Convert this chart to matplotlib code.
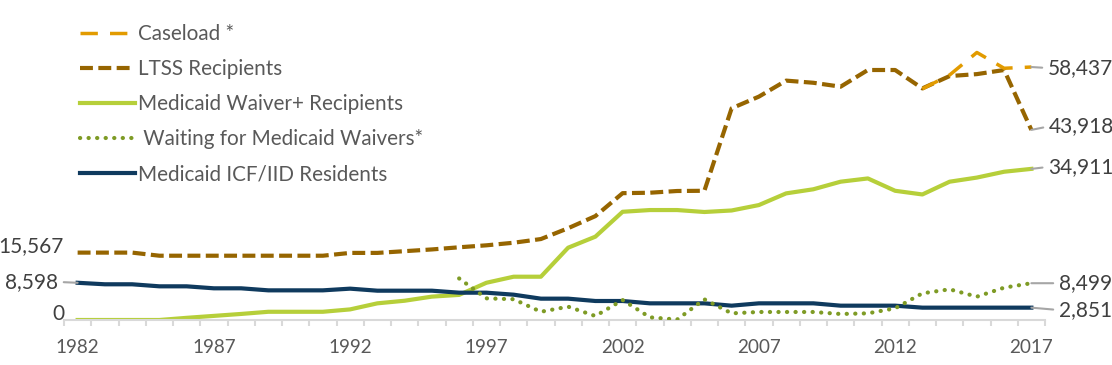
import matplotlib
matplotlib.use("Agg")
import matplotlib.pyplot as plt
import numpy as np

years = list(range(1982, 2018))

ltss = [15567, 15567, 15567, 14850, 14850, 14850, 14850, 14850, 14850, 14850,
        15500, 15500, 15900, 16300, 16800, 17250, 17850, 18700, 21200, 24000,
        29300, 29400, 29800, 29850, 48900, 51600, 55300, 54800, 53900, 57750,
        57750, 53500, 56350, 56800, 57750, 43918]

waiver = [0, 0, 0, 0, 500, 950, 1400, 1900, 1900, 1900,
          2450, 3850, 4450, 5400, 5800, 8600, 10000, 10000, 16700, 19250,
          25000, 25400, 25400, 24950, 25300, 26550, 29250, 30200, 31950, 32700,
          29850, 29000, 31950, 32900, 34250, 34911]

icf = [8598, 8250, 8250, 7780, 7780, 7320, 7320, 6850, 6850, 6850,
       7240, 6770, 6770, 6770, 6310, 6310, 5850, 4930, 4930, 4390,
       4390, 3850, 3850, 3850, 3310, 3850, 3850, 3850, 3310, 3310,
       3310, 2851, 2851, 2851, 2851, 2851]

waiting = [None] * 14 + [9600, 5000, 4800, 1900, 3080, 920, 4620, 620, 100, 4780,
                         1540, 1850, 1850, 1850, 1390, 1540, 2700, 6160, 7090, 5390,
                         7470, 8499]

caseload = [None] * 31 + [53400, 56600, 61800, 58150, 58437]

tick_years = [1982, 1987, 1992, 1997, 2002, 2007, 2012, 2017]

labels = ["Caseload *", "LTSS Recipients", "Medicaid Waiver+ Recipients",
          " Waiting for Medicaid Waivers*", "Medicaid ICF/IID Residents"]

C_CASE = "#E29B00"
C_LTSS = "#966500"
C_WAIV = "#B6CF3A"
C_WAIT = "#7E9B25"
C_ICF = "#0F3A5E"
C_GRAY = "#A6A6A6"
C_TICK = "#595959"
C_LAB = "#404040"

plt.rcParams['font.family'] = ['Lato', 'DejaVu Sans']

fig = plt.figure(figsize=(11.12, 3.65), dpi=100)
ax = fig.add_axes([64 / 1112, 45 / 365, 981 / 1112, 0.7709])

def arr(v):
    return np.array([np.nan if x is None else x for x in v], dtype=float)

l_waiv, = ax.plot(years, waiver, color=C_WAIV, lw=3.0, zorder=2, solid_joinstyle='round')
l_icf, = ax.plot(years, icf, color=C_ICF, lw=3.0, zorder=3, solid_joinstyle='round')
l_wait, = ax.plot(years, arr(waiting), color=C_WAIT, lw=3.0, linestyle=(0, (0.05, 2.0)),
                  dash_capstyle='round', zorder=4)
l_ltss, = ax.plot(years, ltss, color=C_LTSS, lw=3.0, linestyle=(0, (3.1, 1.3)), zorder=5)
l_case, = ax.plot(years, arr(caseload), color=C_CASE, lw=2.5, linestyle=(0, (5, 3.5)), zorder=6)

ax.set_xlim(1981.5, 2017.5)
ax.set_ylim(0, 65000)

for s in ['top', 'right', 'left']:
    ax.spines[s].set_visible(False)
ax.spines['bottom'].set_color('#D9D9D9')
ax.spines['bottom'].set_linewidth(1.5)
ax.set_yticks([])
ax.set_xticks(tick_years)
ax.set_xticklabels([str(y) for y in tick_years])
ax.set_xticks(np.arange(1981.5, 2018.0, 1.0), minor=True)
ax.tick_params(axis='x', which='major', length=0, pad=14, labelsize=13.6, labelcolor=C_TICK)
ax.tick_params(axis='x', which='minor', length=4.5, width=1.5, color='#D9D9D9')

def lab(val, x, dx, dy, ha, leader):
    txt = f"{val:,}"
    kw = dict(xy=(x, val), xytext=(dx, dy), textcoords='offset points',
              ha=ha, va='center', fontsize=15, color=C_LAB, zorder=10)
    if leader:
        kw['arrowprops'] = dict(arrowstyle='-', color=C_GRAY, lw=1.5,
                                shrinkA=2, shrinkB=0,
                                relpos=(0, 0.5) if ha == 'left' else (1, 0.5))
    ax.annotate(txt, **kw)

lab(ltss[0], years[0], -10.4, 5.0, 'right', False)
lab(icf[0], years[0], -14.0, 0.6, 'right', True)
lab(waiver[0], years[0], -9.7, 4.3, 'right', False)

lab(caseload[-1], years[-1], 11.8, -0.7, 'left', True)
lab(ltss[-1], years[-1], 12.5, 2.5, 'left', True)
lab(waiver[-1], years[-1], 12.0, 1.4, 'left', True)
lab(waiting[-1], years[-1], 19.7, 0.0, 'left', True)
lab(icf[-1], years[-1], 19.7, -1.7, 'left', True)

handles = [l_case, l_ltss, l_waiv, l_wait, l_icf]
leg = fig.legend(handles, labels, loc='upper left', bbox_to_anchor=(80 / 1112, 1 - 24 / 365),
                 frameon=False, fontsize=14.9, handlelength=2.66, handletextpad=0.14,
                 labelspacing=0.73, borderpad=0, borderaxespad=0)
for t in leg.get_texts():
    t.set_color(C_TICK)

fig.savefig("out.png", dpi=100)
